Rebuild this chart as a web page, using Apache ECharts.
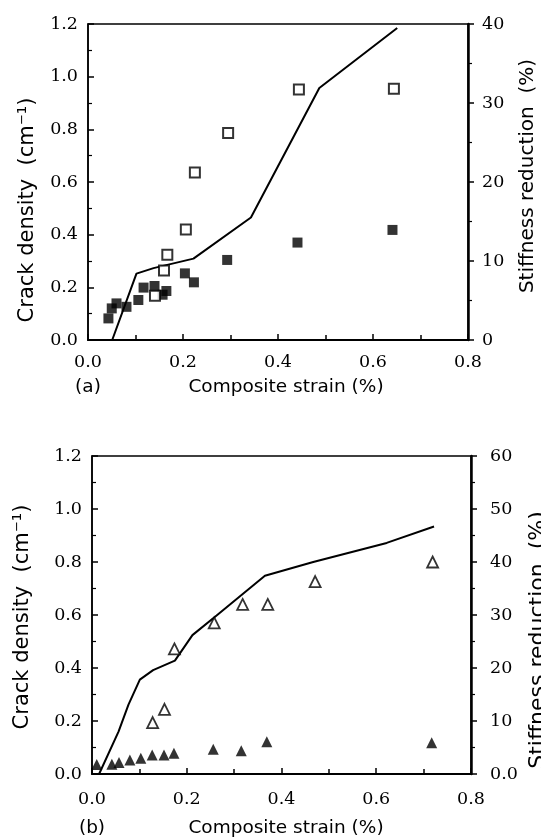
<!DOCTYPE html>
<html><head><meta charset="utf-8">
<script src="https://cdn.jsdelivr.net/npm/echarts@6/dist/echarts.min.js"></script>
<style>html,body{margin:0;padding:0;background:#fff}#c{width:541px;height:838px}</style>
</head><body><div id="c"></div>
<script>
// ---------- Panel (a) ----------
const aFilledStrain = [0.043, 0.050, 0.060, 0.081, 0.106, 0.117, 0.140, 0.157, 0.165, 0.204, 0.223, 0.293, 0.441, 0.641];
const aFilledCrackDensity = [0.082, 0.120, 0.139, 0.126, 0.152, 0.199, 0.205, 0.172, 0.186, 0.253, 0.219, 0.304, 0.370, 0.418];
const aOpenStrain = [0.141, 0.160, 0.167, 0.206, 0.225, 0.295, 0.444, 0.644];
const aOpenStiffness = [5.6, 8.8, 10.8, 14.0, 21.2, 26.2, 31.7, 31.8];
const aLineStrain = [0.051, 0.102, 0.138, 0.222, 0.343, 0.487, 0.651];
const aLineStiffness = [0, 8.4, 9.1, 10.3, 15.5, 31.9, 39.5];
// ---------- Panel (b) ----------
const bFilledStrain = [0.010, 0.042, 0.057, 0.080, 0.103, 0.127, 0.152, 0.173, 0.256, 0.315, 0.369, 0.717];
const bFilledCrackDensity = [0.036, 0.037, 0.043, 0.053, 0.059, 0.072, 0.072, 0.078, 0.093, 0.088, 0.122, 0.118];
const bOpenStrain = [0.128, 0.153, 0.174, 0.258, 0.318, 0.371, 0.471, 0.719];
const bOpenStiffness = [9.7, 12.2, 23.6, 28.5, 32.0, 32.0, 36.3, 40.0];
const bLineStrain = [0.015, 0.056, 0.077, 0.101, 0.129, 0.175, 0.212, 0.263, 0.365, 0.467, 0.622, 0.722];
const bLineStiffness = [0, 8.0, 13.1, 17.8, 19.6, 21.4, 26.2, 29.9, 37.4, 40.0, 43.6, 46.7];
// ---------- Axes & texts ----------
const xRange = [0, 0.8, 0.2];
const leftRange = [0, 1.2, 0.2];
const rightRangeA = [0, 40, 10];
const rightRangeB = [0, 60, 10];
const xTitle = 'Composite strain (%)';
const leftTitle = 'Crack density  (cm\u207B\u00B9)';
const rightTitle = 'Stiffness reduction  (%)';
const panelLabels = ['(a)', '(b)'];

const zip = (xs, ys) => xs.map((x, i) => [x, ys[i]]);
const numFont = {fontFamily: 'DejaVu Serif', fontSize: 17.5, color: '#000'};
const sansFont = 'DejaVu Sans';

function xAxisDef(gi, margin) {
  return {
    type: 'value', gridIndex: gi, min: xRange[0], max: xRange[1], interval: xRange[2],
    axisLine: {lineStyle: {color: '#000', width: 2}},
    axisTick: {inside: true, length: 6, lineStyle: {color: '#000', width: 1.5}},
    minorTick: {show: true, splitNumber: 2, length: 5, lineStyle: {color: '#000', width: 1.5}},
    splitLine: {show: false},
    axisLabel: Object.assign({margin: margin, formatter: v => v.toFixed(1)}, numFont)
  };
}
function leftAxisDef(gi) {
  return {
    type: 'value', gridIndex: gi, position: 'left', min: leftRange[0], max: leftRange[1], interval: leftRange[2],
    axisLine: {show: true, lineStyle: {color: '#000', width: 1.5}},
    axisTick: {inside: true, length: 6, lineStyle: {color: '#000', width: 1.5}},
    minorTick: {show: true, splitNumber: 2, length: 4, lineStyle: {color: '#000', width: 1.2}},
    splitLine: {show: false},
    axisLabel: Object.assign({margin: 10, formatter: v => v.toFixed(1)}, numFont)
  };
}
function rightAxisDef(gi, range, margin, fmt) {
  return {
    type: 'value', gridIndex: gi, position: 'right', min: range[0], max: range[1], interval: range[2],
    axisLine: {show: true, lineStyle: {color: '#000', width: 2.5}},
    axisTick: {inside: false, length: 6, lineStyle: {color: '#000', width: 1.5}},
    minorTick: {show: true, splitNumber: 2, length: 4, lineStyle: {color: '#000', width: 1.2}},
    splitLine: {show: false},
    axisLabel: Object.assign({margin: margin, formatter: fmt}, numFont)
  };
}
const filledStyle = {color: '#000'};
const openStyle = {color: '#fff', borderColor: '#000', borderWidth: 2};
const lineSeries = (xi, yi, data) => ({
  type: 'line', xAxisIndex: xi, yAxisIndex: yi, data: data, showSymbol: false, symbol: 'none',
  lineStyle: {color: '#000', width: 2}, z: 2
});
const scatter = (xi, yi, data, sym, size, style) => ({
  type: 'scatter', xAxisIndex: xi, yAxisIndex: yi, data: data, symbol: sym, symbolSize: size,
  itemStyle: style, z: 3
});
function vText(x, y, text, size) {
  return {type: 'text', x: x, y: y, rotation: Math.PI / 2,
    style: {text: text, font: size + 'px "' + sansFont + '"', fill: '#000', align: 'center', verticalAlign: 'middle'}};
}
function hText(x, y, text, size) {
  return {type: 'text', x: x, y: y,
    style: {text: text, font: size + 'px "' + sansFont + '"', fill: '#000', align: 'center', verticalAlign: 'middle'}};
}

const option = {
  animation: false,
  backgroundColor: '#fff',
  grid: [
    {left: 88, right: 73, top: 24, height: 316, show: true, borderColor: '#000', borderWidth: 1.5, backgroundColor: 'transparent'},
    {left: 92, right: 70, top: 456, height: 318, show: true, borderColor: '#000', borderWidth: 1.5, backgroundColor: 'transparent'}
  ],
  xAxis: [xAxisDef(0, 13), xAxisDef(1, 16)],
  yAxis: [
    leftAxisDef(0),
    rightAxisDef(0, rightRangeA, 14, v => String(v)),
    leftAxisDef(1),
    rightAxisDef(1, rightRangeB, 19, v => v === 0 ? '0.0' : String(v))
  ],
  series: [
    lineSeries(0, 1, zip(aLineStrain, aLineStiffness)),
    scatter(0, 0, zip(aFilledStrain, aFilledCrackDensity), 'rect', 10, filledStyle),
    scatter(0, 1, zip(aOpenStrain, aOpenStiffness), 'rect', 10, openStyle),
    lineSeries(1, 3, zip(bLineStrain, bLineStiffness)),
    scatter(1, 2, zip(bFilledStrain, bFilledCrackDensity), 'triangle', 11, filledStyle),
    scatter(1, 3, zip(bOpenStrain, bOpenStiffness), 'triangle', 11, {color: '#fff', borderColor: '#000', borderWidth: 1.8})
  ],
  graphic: [
    vText(28, 210, leftTitle, 21),
    vText(528, 176, rightTitle, 20),
    hText(286, 387, xTitle, 18.5),
    hText(88, 387, panelLabels[0], 18.5),
    vText(23, 617, leftTitle, 21),
    vText(538, 640, rightTitle, 22),
    hText(286, 828, xTitle, 18.5),
    hText(92, 828, panelLabels[1], 18.5)
  ]
};
const chart = echarts.init(document.getElementById('c'), null, {renderer: 'canvas'});
chart.setOption(option);
</script>
</body></html>
